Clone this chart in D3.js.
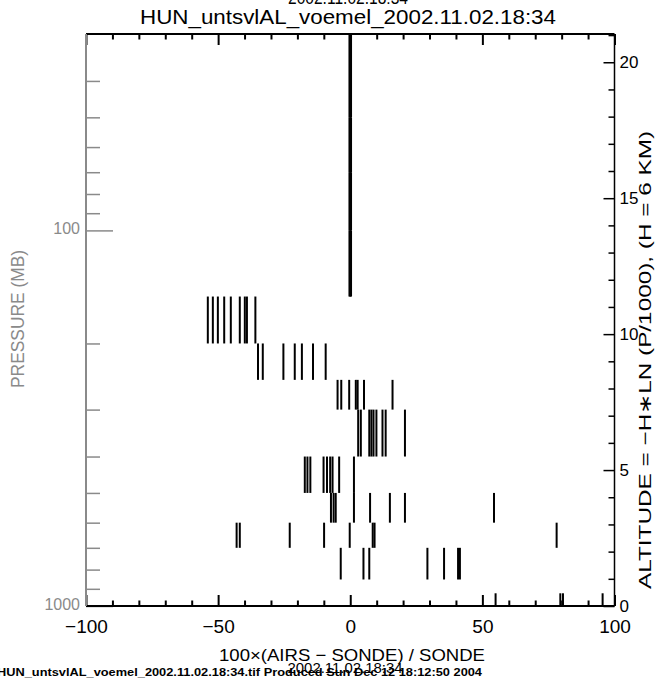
<!DOCTYPE html>
<html>
<head>
<meta charset="utf-8">
<script src="https://cdn.jsdelivr.net/npm/d3@7/dist/d3.min.js"></script>
<style>
  html, body { margin: 0; padding: 0; background: #fff; }
  svg { display: block; font-family: "Liberation Sans", Arial, Helvetica, sans-serif; }
</style>
</head>
<body>
<svg id="chart" width="662" height="682"></svg>
<script>
// AIRS retrieval vs. radiosonde water vapour: percent difference per AIRS layer
const pressureEdges = [30, 50, 70, 100, 150, 200, 250, 300, 400, 500, 600, 700, 850, 925, 1000];

// one list of footprint differences per layer (top layer first)
const layer30to50   = [-0.3, 0, 0.3];
const layer50to70   = [-0.3, 0, 0.3];
const layer70to100  = [-0.3, 0, 0.3];
const layer100to150 = [-0.3, 0, 0.3];
const layer150to200 = [-53.9, -52.0, -50.1, -47.7, -45.2, -41.8, -39.9, -39.1, -35.9];
const layer200to250 = [-34.9, -33.1, -25.3, -21.0, -18.3, -14.1, -9.3];
const layer250to300 = [-4.8, -3.4, -0.4, 2.1, 2.8, 5.2, 16.0];
const layer300to400 = [3.0, 4.0, 7.2, 8.0, 8.8, 9.9, 12.2, 13.4, 20.7];
const layer400to500 = [-17.2, -16.2, -15.1, -10.1, -8.8, -7.6, -6.7, -4.2, 1.4];
const layer500to600 = [-7.3, -6.3, -5.5, 1.4, 7.5, 15.0, 20.7, 54.4];
const layer600to700 = [-43.0, -41.8, -22.9, -9.9, -0.2, 8.5, 9.2, 78.1];
const layer700to850 = [-3.6, 5.0, 7.2, 29.2, 35.5, 40.8, 41.5];
const layer850to925 = [];
const layer925to1000 = [55.0, 79.5, 80.5, 95.5];

const layerValues = [layer30to50, layer50to70, layer70to100, layer100to150,
  layer150to200, layer200to250, layer250to300, layer300to400, layer400to500,
  layer500to600, layer600to700, layer700to850, layer850to925, layer925to1000];

const xMajorTicks = [-100, -50, 0, 50, 100];
const xMinorTicks = [-90, -80, -70, -60, -40, -30, -20, -10, 10, 20, 30, 40, 60, 70, 80, 90];
const pMajorTicks = [100, 1000];
const pMinorTicks = [40, 50, 60, 70, 80, 90, 200, 300, 400, 500, 600, 700, 800, 900];
const altMajorTicks = [0, 5, 10, 15, 20];
const altMinorTicks = [1, 2, 3, 4, 6, 7, 8, 9, 11, 12, 13, 14, 16, 17, 18, 19, 21];

const titleText = "HUN_untsvlAL_voemel_2002.11.02.18:34";
const dateText = "2002.11.02.18:34";
const footerText = "HUN_untsvlAL_voemel_2002.11.02.18:34.tif Produced Sun Dec 12 18:12:50 2004";
const xTitle = "100\u00d7(AIRS \u2212 SONDE) / SONDE";
const yTitle = "PRESSURE (MB)";
const y2Title = "ALTITUDE = \u2212H\u2217LN (P/1000), (H = 6 KM)";

const H = 6;
const altitude = p => -H * Math.log(p / 1000);

const plotL = 86, plotR = 614.5, plotT = 34, plotB = 606;
const svg = d3.select("#chart");

const x = d3.scaleLinear().domain([-100, 100]).range([plotL, plotR]);
const y = d3.scaleLog().domain([1000, 30]).range([plotB, plotT]);
const yAlt = d3.scaleLinear().domain([0, altitude(30)]).range([plotB, plotT]);

// data bars: one vertical segment per footprint spanning its layer
const bars = [];
layerValues.forEach((vals, i) => {
  vals.forEach(v => bars.push({ v, pTop: pressureEdges[i], pBot: pressureEdges[i + 1] }));
});
svg.append("g").selectAll("line").data(bars).join("line")
  .attr("x1", d => x(d.v)).attr("x2", d => x(d.v))
  .attr("y1", d => y(d.pTop)).attr("y2", d => y(d.pBot))
  .attr("stroke", "#000").attr("stroke-width", 2);

function styleAxis(g, color, width) {
  g.select(".domain").remove();
  g.selectAll(".tick line").attr("stroke", color).attr("stroke-width", width);
  g.selectAll(".tick text").attr("fill", color);
}

// bottom axis
svg.append("g").attr("transform", `translate(0,${plotB})`)
  .call(d3.axisBottom(x).tickValues(xMinorTicks).tickSizeInner(-5.5).tickSizeOuter(0).tickFormat(""))
  .call(g => styleAxis(g, "#000", 2));
svg.append("g").attr("transform", `translate(0,${plotB})`)
  .call(d3.axisBottom(x).tickValues(xMajorTicks).tickSizeInner(-11).tickSizeOuter(0).tickPadding(14)
    .tickFormat(d3.format("d")))
  .call(g => styleAxis(g, "#000", 2))
  .call(g => g.selectAll(".tick text").attr("font-size", 19).attr("font-family", "Liberation Sans, Arial, sans-serif"));

// top axis
svg.append("g").attr("transform", `translate(0,${plotT})`)
  .call(d3.axisTop(x).tickValues(xMinorTicks).tickSizeInner(-5.5).tickSizeOuter(0).tickFormat(""))
  .call(g => styleAxis(g, "#000", 2));
svg.append("g").attr("transform", `translate(0,${plotT})`)
  .call(d3.axisTop(x).tickValues(xMajorTicks).tickSizeInner(-11).tickSizeOuter(0).tickFormat(""))
  .call(g => styleAxis(g, "#000", 2));

// left pressure axis
const grey = "#8a8a8a";
svg.append("g").attr("transform", `translate(${plotL},0)`)
  .call(d3.axisLeft(y).tickValues(pMinorTicks).tickSizeInner(-14).tickSizeOuter(0).tickFormat(""))
  .call(g => styleAxis(g, grey, 1.5));
svg.append("g").attr("transform", `translate(${plotL},0)`)
  .call(d3.axisLeft(y).tickValues(pMajorTicks).tickSizeInner(-27).tickSizeOuter(0).tickPadding(6)
    .tickFormat(d3.format("d")))
  .call(g => styleAxis(g, grey, 1.5))
  .call(g => g.selectAll(".tick text").attr("font-size", 16).attr("dy", "0.2em"));

// right altitude axis
svg.append("g").attr("transform", `translate(${plotR},0)`)
  .call(d3.axisRight(yAlt).tickValues(altMinorTicks).tickSizeInner(-6).tickSizeOuter(0).tickFormat(""))
  .call(g => styleAxis(g, "#000", 1.5));
svg.append("g").attr("transform", `translate(${plotR},0)`)
  .call(d3.axisRight(yAlt).tickValues(altMajorTicks).tickSizeInner(-11).tickSizeOuter(0).tickPadding(5)
    .tickFormat(d3.format("d")))
  .call(g => styleAxis(g, "#000", 1.5))
  .call(g => g.selectAll(".tick text").attr("font-size", 17));

// frame
svg.append("line").attr("x1", plotL).attr("x2", plotR).attr("y1", plotT).attr("y2", plotT)
  .attr("stroke", "#000").attr("stroke-width", 2);
svg.append("line").attr("x1", plotL).attr("x2", plotR).attr("y1", plotB).attr("y2", plotB)
  .attr("stroke", "#000").attr("stroke-width", 2);
svg.append("line").attr("x1", plotR).attr("x2", plotR).attr("y1", plotT).attr("y2", plotB)
  .attr("stroke", "#000").attr("stroke-width", 1.5);
svg.append("line").attr("x1", plotL).attr("x2", plotL).attr("y1", plotT).attr("y2", plotB)
  .attr("stroke", grey).attr("stroke-width", 2);

// titles
svg.append("text").attr("x", 348).attr("y", 4).attr("text-anchor", "middle")
  .attr("font-size", 18).attr("textLength", 120).attr("lengthAdjust", "spacingAndGlyphs").text(dateText);
svg.append("text").attr("x", 348).attr("y", 24).attr("text-anchor", "middle")
  .attr("font-size", 20).attr("textLength", 416).attr("lengthAdjust", "spacingAndGlyphs").text(titleText);
svg.append("text").attr("x", 352).attr("y", 661).attr("text-anchor", "middle")
  .attr("font-size", 17).attr("textLength", 266).attr("lengthAdjust", "spacingAndGlyphs").text(xTitle);
svg.append("text").attr("transform", "translate(24,319) rotate(-90)").attr("text-anchor", "middle")
  .attr("font-size", 18).attr("fill", grey).attr("textLength", 138).attr("lengthAdjust", "spacingAndGlyphs")
  .text(yTitle);
svg.append("text").attr("transform", "translate(651,360) rotate(-90)").attr("text-anchor", "middle")
  .attr("font-size", 17).attr("textLength", 458).attr("lengthAdjust", "spacingAndGlyphs").text(y2Title);

// footer stamp
svg.append("text").attr("x", -3).attr("y", 676).attr("font-size", 11).attr("font-weight", "bold")
  .attr("textLength", 485).attr("lengthAdjust", "spacingAndGlyphs").text(footerText);
svg.append("text").attr("x", 345).attr("y", 673).attr("text-anchor", "middle").attr("font-size", 14)
  .attr("textLength", 115).attr("lengthAdjust", "spacingAndGlyphs").text(dateText);
</script>
</body>
</html>
